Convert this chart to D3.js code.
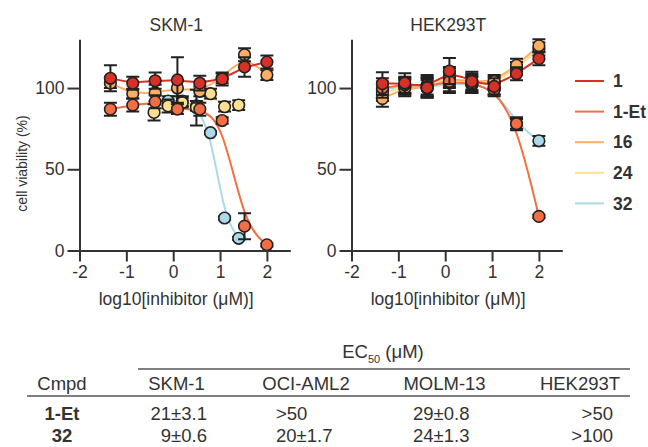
<!DOCTYPE html>
<html>
<head>
<meta charset="utf-8">
<script src="https://cdn.jsdelivr.net/npm/d3@7"></script>
<style>
  body { margin: 0; background: #fff; }
  svg { font-family: "Liberation Sans", Arial, sans-serif; }
</style>
</head>
<body>
<svg id="chart" width="648" height="447"></svg>
<script>
// doses in uM
const dose3 = [0.0457, 0.137, 0.412, 1.23, 3.70, 11.1, 33.3, 100];   // 3-fold from 100
const dose24 = [0.39, 0.78, 1.56, 3.13, 6.25, 12.5, 25];             // 2-fold from 25
const dose32 = [0.78, 1.56, 3.13, 6.25, 12.5, 25];

const compounds = ["1", "1-Et", "16", "24", "32"];
const xTicks = [-2, -1, 0, 1, 2];
const yTicks = [0, 50, 100];

// SKM-1, cell viability %
const skm_1 = [106, 103, 104.5, 105, 103, 105.5, 113, 116];
const skm_1_err = [8, 4, 5, 14, 4.5, 4, 6, 4];
const skm_1Et = [87, 89.5, 91.5, 87, 87, 80, 15, 3.5];
const skm_1Et_err = [4, 4, 4, 3, 4, 2, 8, 1];
const skm_16 = [103, 96.5, 97, 100, 98, 106, 120.5, 108];
const skm_16_err = [3, 3, 5, 5, 3, 3, 4, 3];
const skm_24 = [85, 89, 91, 88, 96.5, 88.5, 89.5];
const skm_24_err = [5, 4, 3, 11, 3, 3, 3];
const skm_32 = [92, 92, 89, 72.5, 20, 7.5];
const skm_32_err = [3, 3, 3, 1, 1, 1];

// HEK293T, cell viability %
const hek_1 = [102.7, 103.1, 100.2, 110.5, 104.1, 101, 108.8, 118.1];
const hek_1_err = [7, 6, 6, 8, 6, 5, 4, 4];
const hek_1Et = [100, 102, 101, 104, 103, 99, 78, 21];
const hek_1Et_err = [6, 5, 6, 6, 5, 4, 4, 1];
const hek_16 = [93.5, 100, 100, 106, 104, 104, 114, 126];
const hek_16_err = [5, 5, 6, 6, 5, 4, 4, 4];
const hek_24 = [97, 101, 102, 107, 102, 103, 112, 124];
const hek_24_err = [5, 5, 6, 6, 5, 4, 4, 4];
const hek_32 = [99, 101, 100, 103, 102, 100, 78, 67.5];
const hek_32_err = [5, 5, 5, 6, 5, 4, 3, 3];

// EC50 table
const ec50Cols = ["SKM-1", "OCI-AML2", "MOLM-13", "HEK293T"];
const ec50Rows = ["1-Et", "32"];
const ec50_1Et = ["21±3.1", ">50", "29±0.8", ">50"];
const ec50_32 = ["9±0.6", "20±1.7", "24±1.3", ">100"];

const colors = {"1": "#d73027", "1-Et": "#f46d43", "16": "#fdae61", "24": "#fee090", "32": "#abd9e9"};
const ink = "#333";

const svg = d3.select("#chart");

function mk(doses, vals, errs) {
  return vals.map((v, i) => ({c: doses[i], v: v, e: errs[i]}));
}

const panels = [
  {title: "SKM-1", x0: 79.5, series: {
    "1": mk(dose3, skm_1, skm_1_err), "1-Et": mk(dose3, skm_1Et, skm_1Et_err),
    "16": mk(dose3, skm_16, skm_16_err), "24": mk(dose24, skm_24, skm_24_err),
    "32": mk(dose32, skm_32, skm_32_err)}},
  {title: "HEK293T", x0: 351.5, series: {
    "1": mk(dose3, hek_1, hek_1_err), "1-Et": mk(dose3, hek_1Et, hek_1Et_err),
    "16": mk(dose3, hek_16, hek_16_err), "24": mk(dose3, hek_24, hek_24_err),
    "32": mk(dose3, hek_32, hek_32_err)}}
];

const y = d3.scaleLinear().domain([0, 130]).range([250.5, 39.3]);
const drawOrder = ["32", "24", "16", "1-Et", "1"];

panels.forEach(p => {
  const x = d3.scaleLinear().domain([-2, 2.5]).range([p.x0, p.x0 + 4.5 * 46.85]);
  const g = svg.append("g");

  const line = d3.line()
    .x(d => x(Math.log10(d.c)))
    .y(d => y(d.v))
    .curve(d3.curveBasis);

  drawOrder.forEach(k => {
    g.append("path")
      .attr("d", line(p.series[k]))
      .attr("fill", "none")
      .attr("stroke", colors[k])
      .attr("stroke-width", 2);
  });

  drawOrder.forEach(k => {
    const s = g.append("g").selectAll("g").data(p.series[k]).join("g");
    s.append("path")
      .attr("d", d => {
        const cx = x(Math.log10(d.c)), t = y(d.v + d.e), b = y(d.v - d.e);
        return `M${cx},${t}V${b}M${cx - 6.5},${t}H${cx + 6.5}M${cx - 6.5},${b}H${cx + 6.5}`;
      })
      .attr("stroke", "#222")
      .attr("stroke-width", 2)
      .attr("fill", "none");
    s.append("circle")
      .attr("cx", d => x(Math.log10(d.c)))
      .attr("cy", d => y(d.v))
      .attr("r", 5.8)
      .attr("fill", colors[k])
      .attr("stroke", "#222")
      .attr("stroke-width", 1.6);
  });

  const ya = g.append("g")
    .attr("transform", `translate(${x(-2)},0)`)
    .call(d3.axisLeft(y).tickValues(yTicks).tickSize(12).tickPadding(3).tickSizeOuter(0));
  const xa = g.append("g")
    .attr("transform", `translate(0,${y(0)})`)
    .call(d3.axisBottom(x).tickValues(xTicks).tickFormat(d => String(d)).tickSize(11).tickPadding(4).tickSizeOuter(0));
  [ya, xa].forEach(a => {
    a.selectAll("path,line").attr("stroke", ink).attr("stroke-width", 2);
    a.selectAll("text").attr("fill", ink).attr("font-size", 17.5);
  });

  g.append("text")
    .attr("x", x(0) + 3).attr("y", 31)
    .attr("text-anchor", "middle").attr("font-size", 17.5).attr("fill", ink)
    .text(p.title);
  g.append("text")
    .attr("x", x(0) + 3).attr("y", 305)
    .attr("text-anchor", "middle").attr("font-size", 17.5).attr("fill", ink)
    .text("log10[inhibitor (μM)]");
});

svg.append("text")
  .attr("transform", "translate(21.7,163.5) rotate(-90)")
  .attr("text-anchor", "middle").attr("dy", "0.35em")
  .attr("font-size", 14).attr("fill", ink)
  .text("cell viability (%)");

// legend
const leg = svg.append("g").selectAll("g").data(compounds).join("g")
  .attr("transform", (d, i) => `translate(575,${81 + i * 30.6})`);
leg.append("line").attr("x1", 0).attr("x2", 29)
  .attr("stroke", d => colors[d]).attr("stroke-width", 2);
leg.append("text").attr("x", 38).attr("dy", "0.35em")
  .attr("font-size", 17.5).attr("font-weight", "bold").attr("fill", ink)
  .text(d => d);

// EC50 table
const tbl = svg.append("g").attr("fill", ink).attr("font-size", 18.5);
const hdr = tbl.append("text").attr("x", 383).attr("y", 358).attr("text-anchor", "middle");
hdr.append("tspan").text("EC");
hdr.append("tspan").attr("font-size", 11).attr("dy", 5).text("50");
hdr.append("tspan").attr("dy", -5).text(" (μM)");

tbl.append("line").attr("x1", 138).attr("x2", 630).attr("y1", 369).attr("y2", 369)
  .attr("stroke", "#555").attr("stroke-width", 1.5);
tbl.append("line").attr("x1", 27).attr("x2", 630).attr("y1", 396).attr("y2", 396)
  .attr("stroke", "#555").attr("stroke-width", 1.5);

tbl.append("text").attr("x", 62).attr("y", 390).attr("text-anchor", "middle").text("Cmpd");
const colCenter = [176.5, 306, 444.5, 580];
tbl.selectAll("text.col").data(ec50Cols).join("text").attr("class", "col")
  .attr("x", (d, i) => colCenter[i]).attr("y", 390).attr("text-anchor", "middle").text(d => d);

const rowY = [420, 442];
const cellX = [207, 276, 413, 613];
const cellAnchor = ["end", "start", "start", "end"];
[ec50_1Et, ec50_32].forEach((row, r) => {
  tbl.append("text").attr("x", 62).attr("y", rowY[r]).attr("text-anchor", "middle")
    .attr("font-weight", "bold").text(ec50Rows[r]);
  row.forEach((v, c) => {
    tbl.append("text").attr("x", cellX[c]).attr("y", rowY[r])
      .attr("text-anchor", cellAnchor[c]).text(v);
  });
});
</script>
</body>
</html>
